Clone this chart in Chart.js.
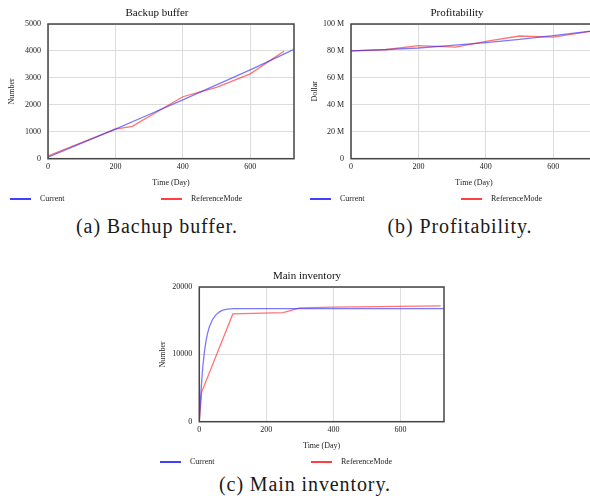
<!DOCTYPE html>
<html>
<head>
<meta charset="utf-8">
<script src="https://cdn.jsdelivr.net/npm/chart.js@4/dist/chart.umd.min.js"></script>
<style>
  html, body { margin: 0; padding: 0; background: #fff; overflow: hidden; width: 590px; height: 496px; position: relative; }
  .panel { position: absolute; width: 300px; height: 210px; }
  .panel canvas { display: block; }
  .caption { position: absolute; font-family: "Liberation Serif", "Times New Roman", serif; font-size: 20px; letter-spacing: 0.9px; line-height: 20px; color: #1a1a1a; white-space: nowrap; transform: translateX(-50%); }
</style>
</head>
<body>
<div class="panel" style="left:0;top:0"><canvas id="buffer" width="300" height="210"></canvas></div>
<div class="panel" style="left:300px;top:0"><canvas id="profit" width="300" height="210"></canvas></div>
<div class="panel" style="left:150px;top:263px"><canvas id="inventory" width="300" height="210"></canvas></div>
<div class="caption" style="left:157px;top:216px">(a) Bachup buffer.</div>
<div class="caption" style="left:460px;top:216px">(b) Profitability.</div>
<div class="caption" style="left:305px;top:474px">(c) Main inventory.</div>
<script>
// ---- Backup buffer (Number) ----
const bufferCurrentDays = [0, 100, 200, 300, 400, 500, 600, 700, 730];
const bufferCurrent     = [60, 580, 1100, 1640, 2180, 2740, 3300, 3880, 4060];
const bufferRefDays     = [0, 200, 250, 400, 500, 600, 700];
const bufferReference   = [100, 1100, 1200, 2300, 2650, 3150, 3990];

// ---- Profitability (million dollars) ----
const profitCurrentDays = [0, 100, 200, 300, 400, 500, 600, 730];
const profitCurrent     = [80.0, 81.0, 82.2, 84.2, 86.2, 88.6, 91.3, 95.2];
const profitRefDays     = [0, 100, 200, 310, 400, 500, 600, 730];
const profitReference   = [80.0, 80.9, 84.0, 82.8, 87.1, 91.1, 90.3, 95.2];

// ---- Main inventory (Number) ----
const invCurrentDays = [0, 3, 6, 10, 15, 20, 25, 30, 40, 50, 60, 70, 85, 100, 150, 730];
const invCurrent     = [0, 2800, 5200, 7900, 10300, 12000, 13200, 14100, 15200, 15900, 16300, 16550, 16700, 16780, 16800, 16800];
const invRefDays     = [0, 7, 100, 250, 300, 400, 720];
const invReference   = [0, 4400, 16000, 16200, 16900, 17000, 17200];

// ---- Axis ticks ----
const timeTicks      = [0, 200, 400, 600];
const bufferTicks    = [0, 1000, 2000, 3000, 4000, 5000];
const profitTicks    = [0, 20, 40, 60, 80, 100];
const inventoryTicks = [0, 10000, 20000];

const seriesNames = ['Current', 'ReferenceMode'];

Chart.defaults.font.family = '"Liberation Serif", "Times New Roman", serif';
Chart.defaults.color = '#222';

const LINE_BLUE = 'rgba(40, 40, 255, 0.62)';
const LINE_RED  = 'rgba(255, 30, 30, 0.62)';
const KEY_COLORS = ['#0000ff', '#ff0000'];

const pairs = (xs, ys) => xs.map((x, i) => ({ x, y: ys[i] }));

// Plot frame, panel title and two-item key drawn at fixed spots
const panelDecor = {
  id: 'panelDecor',
  afterDatasetsDraw(chart, args, opts) {
    const ctx = chart.ctx;
    const a = chart.chartArea;
    ctx.save();
    ctx.strokeStyle = '#444';
    ctx.lineWidth = 1.5;
    ctx.strokeRect(a.left, a.top, a.right - a.left, a.bottom - a.top);
    ctx.restore();
  },
  afterDraw(chart, args, opts) {
    const ctx = chart.ctx;
    ctx.save();
    ctx.fillStyle = '#111';
    ctx.font = '11px "Liberation Serif", serif';
    ctx.textAlign = 'center';
    ctx.textBaseline = 'middle';
    ctx.fillText(opts.title, 157, 13);

    ctx.font = '8px "Liberation Serif", serif';
    ctx.textAlign = 'left';
    const keyY = 199;
    chart.data.datasets.forEach((ds, i) => {
      const x0 = 10 + i * 151;
      ctx.strokeStyle = KEY_COLORS[i];
      ctx.lineWidth = 1.5;
      ctx.beginPath();
      ctx.moveTo(x0, keyY);
      ctx.lineTo(x0 + 21, keyY);
      ctx.stroke();
      ctx.fillStyle = '#222';
      ctx.fillText(ds.label, x0 + 30, keyY);
    });
    ctx.restore();
  }
};

function makePanel(id, cfg) {
  return new Chart(document.getElementById(id), {
    type: 'line',
    data: {
      datasets: [
        { label: seriesNames[0], data: pairs(cfg.curX, cfg.curY), borderColor: LINE_BLUE },
        { label: seriesNames[1], data: pairs(cfg.refX, cfg.refY), borderColor: LINE_RED }
      ]
    },
    options: {
      responsive: false,
      animation: false,
      devicePixelRatio: 1,
      layout: { padding: { left: 0, top: 24, right: cfg.padRight, bottom: 0 } },
      elements: {
        point: { radius: 0 },
        line: { borderWidth: 1.3, tension: 0, fill: false }
      },
      plugins: {
        legend: { display: false },
        title: { display: false },
        tooltip: { enabled: false },
        panelDecor: { title: cfg.title }
      },
      scales: {
        x: {
          type: 'linear',
          min: 0,
          max: 730,
          afterBuildTicks: s => { s.ticks = timeTicks.map(v => ({ value: v })); },
          afterFit: s => { s.height = 51.3; },
          grid: { color: '#dcdcdc', lineWidth: 1, drawTicks: false },
          border: { display: false },
          ticks: { font: { size: 8 }, padding: 3, maxRotation: 0 },
          title: { display: true, text: 'Time (Day)', font: { size: 8 }, padding: { top: 0, bottom: 22.5 } }
        },
        y: {
          type: 'linear',
          min: cfg.yTicks[0],
          max: cfg.yTicks[cfg.yTicks.length - 1],
          afterBuildTicks: s => { s.ticks = cfg.yTicks.map(v => ({ value: v })); },
          afterFit: s => { s.width = cfg.yWidth; },
          grid: { color: '#dcdcdc', lineWidth: 1, drawTicks: false },
          border: { display: false },
          ticks: { font: { size: 8 }, padding: 7, callback: cfg.yFormat },
          title: { display: true, text: cfg.yTitle, font: { size: 8 }, padding: { top: cfg.yTitlePad, bottom: 0 } }
        }
      }
    },
    plugins: [panelDecor]
  });
}

makePanel('buffer', {
  title: 'Backup buffer', yTitle: 'Number', yTicks: bufferTicks,
  yFormat: v => String(v), yWidth: 48, yTitlePad: 7, padRight: 6,
  curX: bufferCurrentDays, curY: bufferCurrent, refX: bufferRefDays, refY: bufferReference
});

makePanel('profit', {
  title: 'Profitability', yTitle: 'Dollar', yTicks: profitTicks,
  yFormat: v => (v === 0 ? '0' : v + ' M'), yWidth: 51, yTitlePad: 10, padRight: 3,
  curX: profitCurrentDays, curY: profitCurrent, refX: profitRefDays, refY: profitReference
});

makePanel('inventory', {
  title: 'Main inventory', yTitle: 'Number', yTicks: inventoryTicks,
  yFormat: v => String(v), yWidth: 49.3, yTitlePad: 8, padRight: 6,
  curX: invCurrentDays, curY: invCurrent, refX: invRefDays, refY: invReference
});
</script>
</body>
</html>
